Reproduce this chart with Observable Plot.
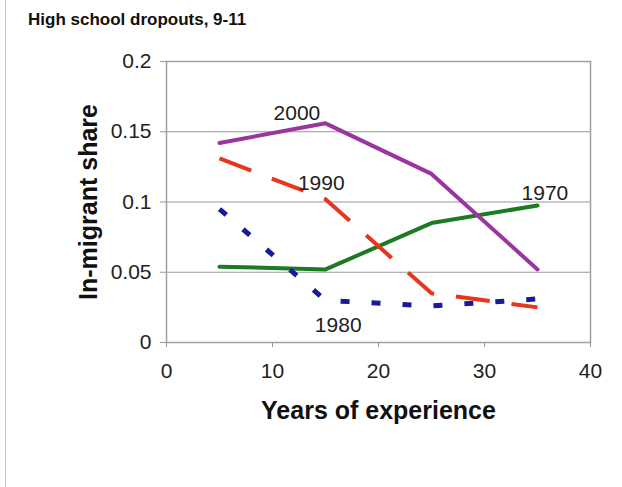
<!DOCTYPE html>
<html>
<head>
<meta charset="utf-8">
<script src="https://cdn.jsdelivr.net/npm/d3@7"></script>
<script src="https://cdn.jsdelivr.net/npm/@observablehq/plot@0.6"></script>
<style>
  body { margin: 0; background: #fff; font-family: "Liberation Sans", Arial, sans-serif; }
  #wrap { position: relative; width: 622px; height: 487px; overflow: hidden; }
  #edge { position: absolute; left: 5px; top: 0; width: 1px; height: 487px; background: #c4c4c4; z-index: 5; }
  #title { position: absolute; left: 28px; top: 10px; font-weight: bold; font-size: 17px; color: #111; z-index: 5; }
  #chart { position: absolute; left: 0; top: 40px; }
</style>
</head>
<body>
<div id="wrap">
  <div id="chart"></div>
  <div id="edge"></div>
  <div id="title">High school dropouts, 9-11</div>
</div>
<script>
const years = [5, 15, 25, 35];
const share1970 = [0.054, 0.052, 0.085, 0.0975];
const share1980 = [0.095, 0.030, 0.026, 0.031];
const share1990 = [0.131, 0.102, 0.035, 0.025];
const share2000 = [0.142, 0.156, 0.120, 0.052];
const xTicks = [0, 10, 20, 30, 40];
const yTicks = [0, 0.05, 0.1, 0.15, 0.2];
const yTickLabels = ["0", "0.05", "0.1", "0.15", "0.2"];
const labelNames = ["2000", "1990", "1970", "1980"];
const labelX = [12.3, 14.6, 35.7, 16.2];
const labelY = [0.163, 0.113, 0.106, 0.012];

const toRows = (vals) => years.map((x, i) => ({x, y: vals[i]}));
const labels = labelNames.map((t, i) => ({t, x: labelX[i], y: labelY[i]}));

const font = "Liberation Sans, Arial, sans-serif";

const plot = Plot.plot({
  width: 622,
  height: 447,
  marginTop: 21,
  marginBottom: 145,
  marginLeft: 166,
  marginRight: 32,
  style: {fontFamily: font, background: "white", overflow: "visible"},
  x: {domain: [0, 40]},
  y: {domain: [0, 0.2]},
  marks: [
    Plot.ruleY(yTicks, {stroke: "#999", strokeWidth: 1.2}),
    Plot.frame({stroke: "#a0a0a0", strokeWidth: 1.5}),
    Plot.axisY(yTicks, {tickSize: 6, tickPadding: 9, stroke: "#999", tickFormat: (d, i) => yTickLabels[i], fontSize: 21, fill: "#222", label: null}),
    Plot.axisX(xTicks, {tickSize: 5, tickPadding: 16, stroke: "#999", fontSize: 21, fill: "#222", label: null}),
    Plot.line(toRows(share1970), {x: "x", y: "y", stroke: "#1e7a22", strokeWidth: 4}),
    Plot.line(toRows(share1980), {x: "x", y: "y", stroke: "#1a1a9a", strokeWidth: 5, strokeDasharray: "9,22", strokeLinecap: "butt"}),
    Plot.line(toRows(share1990), {x: "x", y: "y", stroke: "#e5371e", strokeWidth: 4, strokeDasharray: "34,22", strokeLinecap: "butt"}),
    Plot.line(toRows(share2000), {x: "x", y: "y", stroke: "#9a349f", strokeWidth: 4}),
    Plot.text(labels, {x: "x", y: "y", text: "t", fontSize: 21, fill: "#222"}),
    Plot.text(["Years of experience"], {frameAnchor: "bottom", dy: 68, textAnchor: "middle", lineAnchor: "middle", fontSize: 25, fontWeight: "bold", fill: "#111"}),
    Plot.text(["In-migrant share"], {frameAnchor: "left", dx: -78, rotate: -90, textAnchor: "middle", lineAnchor: "middle", fontSize: 25, fontWeight: "bold", fill: "#111"})
  ]
});
document.getElementById("chart").appendChild(plot);
</script>
</body>
</html>
